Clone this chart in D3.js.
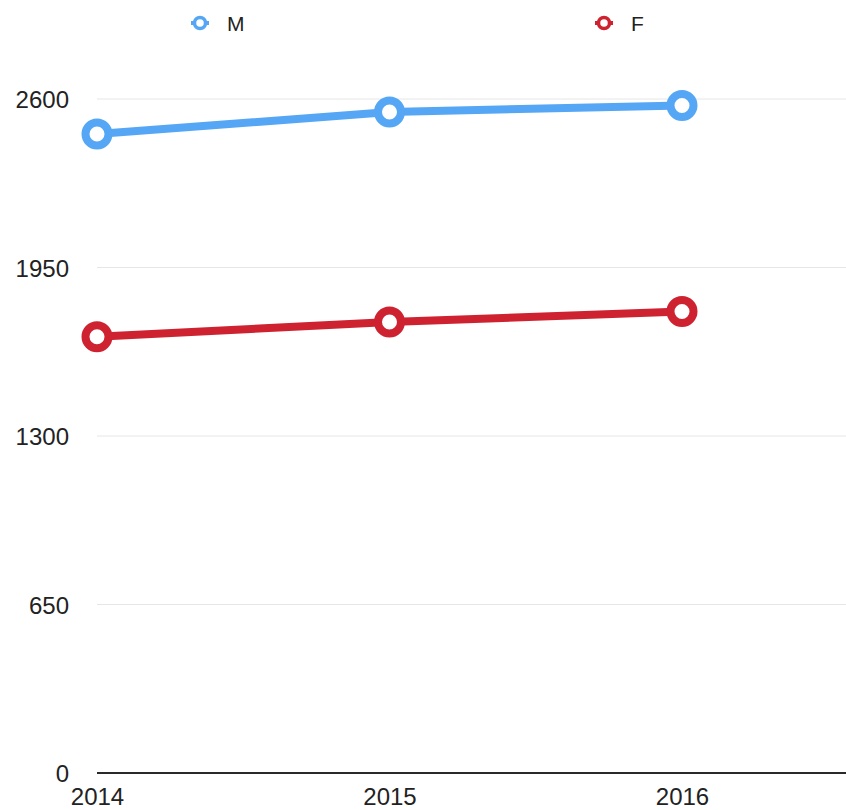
<!DOCTYPE html>
<html>
<head>
<meta charset="utf-8">
<script src="https://cdn.jsdelivr.net/npm/d3@7"></script>
<style>
  html, body { margin: 0; padding: 0; background: #fff; }
  svg { display: block; font-family: "Liberation Sans", Arial, Helvetica, sans-serif; }
</style>
</head>
<body>
<svg id="chart" width="846" height="810"></svg>
<script>
// Yearly totals by sex
const years = [2014, 2015, 2016];
const seriesNames = ["M", "F"];
const valuesM = [2465, 2550, 2575];
const valuesF = [1683, 1740, 1780];
const yTicks = [0, 650, 1300, 1950, 2600];
const colors = { M: "#55a7f5", F: "#cf2230" };

const series = [
  { name: "M", values: valuesM },
  { name: "F", values: valuesF }
];

const svg = d3.select("#chart");
const plotLeft = 97, plotRight = 846, plotTop = 99, plotBottom = 773;

const x = d3.scaleLinear().domain([2014, 2016]).range([plotLeft, 682]);
const y = d3.scaleLinear().domain([0, 2600]).range([plotBottom, plotTop]);

// Horizontal gridlines
svg.append("g")
  .selectAll("line")
  .data(yTicks.filter(t => t !== 0))
  .join("line")
  .attr("x1", plotLeft).attr("x2", plotRight)
  .attr("y1", d => y(d)).attr("y2", d => y(d))
  .attr("stroke", "#e6e6e6").attr("stroke-width", 1);

// Y axis labels
const yAxis = d3.axisLeft(y).tickValues(yTicks).tickFormat(d3.format("d")).tickSize(0).tickPadding(0);
const gy = svg.append("g").attr("transform", `translate(69,0)`).call(yAxis);
gy.select(".domain").remove();
gy.selectAll("text")
  .attr("font-size", 24)
  .attr("fill", "#222")
  .attr("font-family", "\"Liberation Sans\", Arial, sans-serif")
  .attr("dy", "0.37em");

// X axis
const xAxis = d3.axisBottom(x).tickValues(years).tickFormat(d3.format("d")).tickSize(0).tickPadding(0);
const gx = svg.append("g").attr("transform", `translate(0,${plotBottom})`).call(xAxis);
gx.select(".domain").remove();
gx.selectAll("text")
  .attr("font-size", 24)
  .attr("fill", "#222")
  .attr("font-family", "\"Liberation Sans\", Arial, sans-serif")
  .attr("y", 32)
  .attr("dy", 0);
svg.append("line")
  .attr("x1", plotLeft).attr("x2", plotRight)
  .attr("y1", plotBottom).attr("y2", plotBottom)
  .attr("stroke", "#2a2a2a").attr("stroke-width", 2);

// Lines and markers
const line = d3.line().x((d, i) => x(years[i])).y(d => y(d));
const gSeries = svg.append("g").selectAll("g").data(series).join("g");
gSeries.append("path")
  .attr("d", d => line(d.values))
  .attr("fill", "none")
  .attr("stroke", d => colors[d.name])
  .attr("stroke-width", 8)
  .attr("stroke-linejoin", "round");
gSeries.selectAll("circle")
  .data(d => d.values.map((v, i) => ({ v, i, name: d.name })))
  .join("circle")
  .attr("cx", d => x(years[d.i]))
  .attr("cy", d => y(d.v))
  .attr("r", 11.5)
  .attr("fill", "#fff")
  .attr("stroke", d => colors[d.name])
  .attr("stroke-width", 8);

// Legend
const legendX = { M: 200, F: 604 };
const lg = svg.append("g").selectAll("g").data(seriesNames).join("g")
  .attr("transform", d => `translate(${legendX[d]},23)`);
lg.append("line")
  .attr("x1", -9).attr("x2", 9).attr("y1", 0).attr("y2", 0)
  .attr("stroke", d => colors[d]).attr("stroke-width", 4);
lg.append("circle")
  .attr("r", 5.5).attr("fill", "#fff")
  .attr("stroke", d => colors[d]).attr("stroke-width", 3.5);
lg.append("text")
  .attr("x", 27).attr("y", 7.5)
  .attr("font-size", 21).attr("fill", "#222")
  .text(d => d);
</script>
</body>
</html>
